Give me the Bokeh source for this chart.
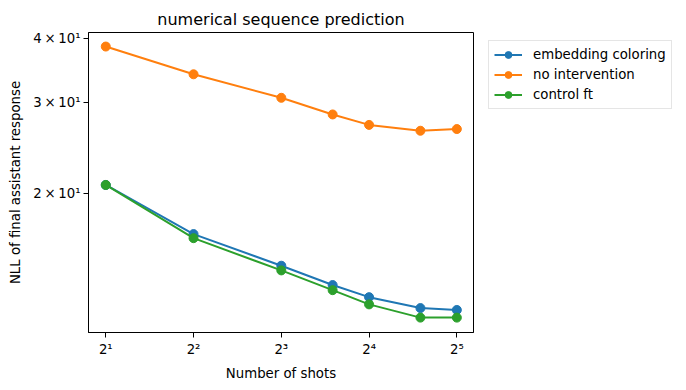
from bokeh.plotting import figure
from bokeh.models import FixedTicker, Legend, LegendItem, Title, Range1d
from bokeh.layouts import row
from bokeh.embed import file_html
from bokeh.resources import INLINE

shots = [2, 4, 8, 12, 16, 24, 32]
embedding_coloring = [20.8, 16.7, 14.5, 13.3, 12.6, 12.0, 11.9]
no_intervention = [38.6, 34.1, 30.7, 28.5, 27.2, 26.5, 26.7]
control_ft = [20.8, 16.4, 14.2, 13.0, 12.2, 11.5, 11.5]

x_ticks = [2, 4, 8, 16, 32]
x_tick_labels = ["2¹", "2²", "2³", "2⁴", "2⁵"]
y_ticks = [20, 30, 40]
y_tick_labels = ["2\u2009×\u200910¹", "3\u2009×\u200910¹", "4\u2009×\u200910¹"]

series = [
    ("embedding coloring", embedding_coloring, "#1f77b4"),
    ("no intervention", no_intervention, "#ff7f0e"),
    ("control ft", control_ft, "#2ca02c"),
]

FONT = "DejaVu Sans"

p = figure(width=480, height=390, x_axis_type="log", y_axis_type="log",
           x_range=(1.745, 36.5), y_range=(10.76, 41.1),
           output_backend="svg", toolbar_location=None,
           min_border_left=88, min_border_right=7, min_border_top=32, min_border_bottom=58)

p.title = Title(text="numerical sequence prediction", align="center",
                text_font=FONT, text_font_size="16px", text_font_style="normal",
                text_color="black", standoff=8)

p.xgrid.visible = False
p.ygrid.visible = False
p.outline_line_color = "black"
p.outline_line_width = 1
p.outline_line_alpha = 1

p.xaxis.ticker = FixedTicker(ticks=x_ticks, minor_ticks=[])
p.xaxis.major_label_overrides = {t: l for t, l in zip(x_ticks, x_tick_labels)}
p.yaxis.ticker = FixedTicker(ticks=y_ticks, minor_ticks=[])
p.yaxis.major_label_overrides = {t: l for t, l in zip(y_ticks, y_tick_labels)}

for ax in (p.xaxis, p.yaxis):
    ax.major_tick_in = 0
    ax.major_tick_out = 5
    ax.minor_tick_in = 0
    ax.minor_tick_out = 0
    ax.major_tick_line_color = "black"
    ax.axis_line_color = "black"
    ax.major_label_text_font = FONT
    ax.major_label_text_font_size = "13.3px"
    ax.major_label_text_color = "black"
    ax.axis_label_text_font = FONT
    ax.axis_label_text_font_size = "13.3px"
    ax.axis_label_text_font_style = "normal"
    ax.axis_label_text_color = "black"

p.xaxis.axis_label = "Number of shots"
p.yaxis.axis_label = "NLL of final assistant response"
p.xaxis.major_label_standoff = 4
p.xaxis.axis_label_standoff = 6
p.yaxis.major_label_standoff = 3
p.yaxis.axis_label_standoff = 7

for name, vals, color in series:
    p.line(shots, vals, line_color=color, line_width=2)
    p.scatter(shots, vals, size=9, fill_color=color, line_color=color)

# Legend lives in a side figure (its own renderers sit outside its visible range)
lp = figure(width=206, height=390, x_range=Range1d(0, 1), y_range=Range1d(0, 1),
            output_backend="svg", toolbar_location=None,
            min_border_left=0, min_border_right=0, min_border_top=31, min_border_bottom=0)
lp.axis.visible = False
lp.grid.visible = False
lp.outline_line_color = None

items = []
for name, vals, color in series:
    r1 = lp.line(shots, vals, line_color=color, line_width=2)
    r2 = lp.scatter(shots, vals, size=9, fill_color=color, line_color=color)
    items.append(LegendItem(label=name, renderers=[r1, r2]))

legend = Legend(items=items, location="top_left",
                label_text_font=FONT, label_text_font_size="13.3px",
                label_text_color="black",
                glyph_width=28, glyph_height=17, label_height=17,
                label_standoff=11, spacing=3, padding=5, margin=8,
                border_line_color="#cccccc", border_line_width=1,
                background_fill_alpha=1)
lp.add_layout(legend, "center")

layout = row(p, lp, spacing=0)
open("out.html", "w").write(file_html(layout, INLINE))
